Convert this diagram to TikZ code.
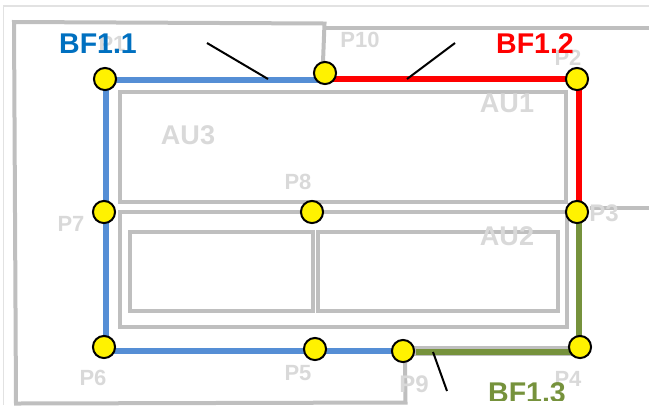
\documentclass[tikz,border=0pt]{standalone}
\usepackage{fontspec}
\setmainfont{Liberation Sans}
\pgfdeclarelayer{under}
\pgfsetlayers{under,main}
\definecolor{wallgray}{HTML}{BFBFBF}
\definecolor{framegray}{HTML}{E2E2E2}
\definecolor{labelgray}{HTML}{D9D9D9}
\definecolor{bfblue}{HTML}{558ED5}
\definecolor{bftextblue}{HTML}{0070C0}
\definecolor{bfgreen}{HTML}{76923C}
\tikzset{
  wall/.style={draw=wallgray,line width=3pt,line join=miter},
  frameline/.style={draw=framegray,line width=0.9pt},
  pt/.style={circle,draw=black,fill=yellow,line width=1.5pt,minimum size=16.6pt,inner sep=0pt},
  plabel/.style={text=labelgray,font=\bfseries\fontsize{16.5}{18}\selectfont,inner sep=0pt},
  plabelbig/.style={text=labelgray,font=\bfseries\fontsize{18}{20}\selectfont,inner sep=0pt},
  aulabel/.style={text=labelgray,font=\bfseries\fontsize{20.3}{22}\selectfont,inner sep=0pt},
  bflabel/.style={font=\bfseries\fontsize{21.4}{24}\selectfont,inner sep=0pt},
  bfline/.style={line width=5.2pt},
  leader/.style={draw=black,line width=1.5pt}
}
\begin{document}
\begin{tikzpicture}[x=0.75pt,y=-0.75pt]
\useasboundingbox (0,0) rectangle (649,405);
% boundary points
\node[pt] (P1) at (105,79) {};
\node[pt] (P10) at (325,73) {};
\node[pt] (P2) at (577,79) {};
\node[pt] (P3) at (577,212) {};
\node[pt] (P4) at (580,347) {};
\node[pt] (P9) at (403,351) {};
\node[pt] (P5) at (315,349) {};
\node[pt] (P6) at (104,347) {};
\node[pt] (P7) at (104,212) {};
\node[pt] (P8) at (312,212) {};
% leader ends
\coordinate (la) at (207,43);
\coordinate (lb) at (268,79);
\coordinate (lc) at (455,43);
\coordinate (ld) at (407,79);
\coordinate (le) at (433,352);
\coordinate (lf) at (447,391);
% wording on top
\node[bflabel,text=bftextblue] (bf1) at (98,44) {BF1.1};
\node[bflabel,text=red] (bf2) at (535,44) {BF1.2};
\begin{scope}
\clip (0,0) rectangle (649,400);
\node[bflabel,text=bfgreen] (bf3) at (527,393) {BF1.3};
\end{scope}
\draw[leader] (la) -- (lb);
\draw[leader] (lc) -- (ld);
\draw[leader] (le) -- (lf);
\begin{pgfonlayer}{under}
% page frame
\draw[frameline] (649,6) -- (3.5,6) -- (3.5,405);
% parcels and building outlines
\draw[wall] (323,62) -- (324.5,23.5) -- (14,22) -- (16,403.5) -- (405.5,402.5) -- (405,360);
\draw[wall] (325,28) -- (649,28);
\draw[wall] (590,208) -- (649,208);
\draw[wall] (120,92) rectangle (566,202);
\draw[wall] (312,212) -- (120,212) -- (120,327) -- (567,327) -- (567,212) -- (312,212);
\draw[wall] (130,232) rectangle (313,311);
\draw[wall] (318,232) rectangle (558,311);
% grey labels
\node[plabel] (lp1) at (112,44) {P1};
\node[plabel] (lp10) at (360,40) {P10};
\node[plabel] (lp2) at (568,58) {P2};
\node[plabelbig] (lp3) at (604,213) {P3};
\node[plabel] (lp4) at (568,379) {P4};
\node[plabelbig] (lp9) at (414,384) {P9};
\node[plabel] (lp5) at (298,373) {P5};
\node[plabel] (lp6) at (93,378) {P6};
\node[plabel] (lp7) at (71,224) {P7};
\node[plabel] (lp8) at (298,182) {P8};
\node[aulabel] (au1) at (507,103) {AU1};
\node[aulabel] (au2) at (507,236) {AU2};
\node[aulabel] (au3) at (188,135) {AU3};
% coloured boundary runs
\draw[draw=wallgray,line width=6.8pt] (P9.center) -- ([shift={(0,4)}]P4.center);
\draw[bfline,draw=bfblue] ([shift={(1,1)}]P1.center) -- ([shift={(0,7)}]P10.center);
\draw[bfline,draw=bfblue] ([shift={(1,0)}]P1.center) -- ([shift={(2,0)}]P6.center);
\draw[bfline,draw=bfblue] ([shift={(0,4)}]P6.center) -- (P9.center);
\draw[bfline,draw=red] ([shift={(0,6)}]P10.center) -- (P2.center);
\draw[bfline,draw=red] ([shift={(2,0)}]P2.center) -- ([shift={(2,0)}]P3.center);
\draw[bfline,draw=bfgreen] ([shift={(2,0)}]P3.center) -- ([shift={(-1,0)}]P4.center);
\draw[bfline,draw=bfgreen] ([shift={(13,1)}]P9.center) -- ([shift={(0,5)}]P4.center);
\end{pgfonlayer}
\end{tikzpicture}
\end{document}
